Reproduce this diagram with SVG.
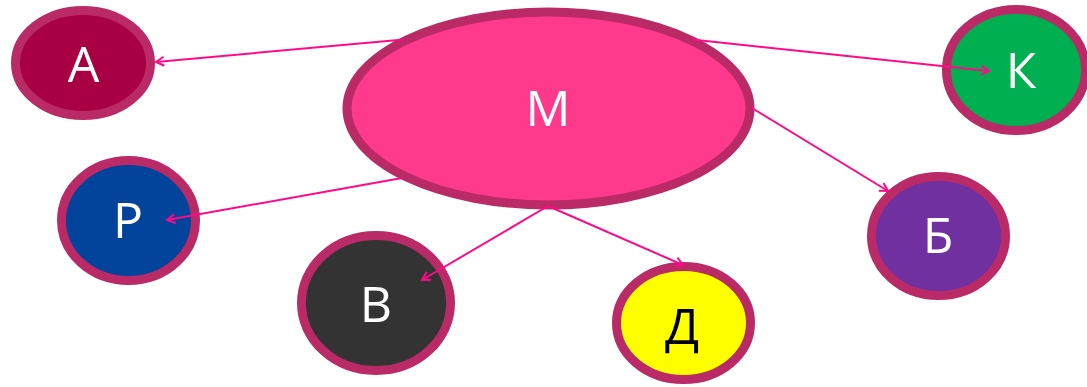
<svg xmlns="http://www.w3.org/2000/svg" width="1087" height="387" viewBox="0 0 1087 387">
<style>
.n{stroke:#B92A66;stroke-width:9}
.t{font-family:"Open Sans","DejaVu Sans",sans-serif;font-size:50px;text-anchor:middle;fill:#FFFFFF}
.c{stroke:#FF0A88;stroke-width:2;fill:none;marker-end:url(#ah)}
</style>
<defs>
<marker id="ah" markerUnits="userSpaceOnUse" markerWidth="14" markerHeight="14" refX="10" refY="6" orient="auto">
<path d="M2,1.5 L10,6 L2,10.5" fill="none" stroke="#FF0A88" stroke-width="2"/>
</marker>
</defs>
<rect width="1087" height="387" fill="#FFFFFF"/>
<g id="node-M"><ellipse class="n" cx="548.5" cy="108.5" rx="201.5" ry="96.5" fill="#FF3A8C"/><text class="t" x="548" y="126">М</text></g>
<g id="node-A"><ellipse class="n" cx="83" cy="63" rx="67.5" ry="52.5" fill="#A80042"/><text class="t" x="83.5" y="82">А</text></g>
<g id="node-K"><ellipse class="n" cx="1016" cy="70" rx="69.5" ry="60.5" fill="#00B050"/><text class="t" x="1021" y="88">К</text></g>
<g id="node-R"><ellipse class="n" cx="128.5" cy="220.5" rx="67" ry="60" fill="#02449C"/><text class="t" x="128" y="238">Р</text></g>
<g id="node-V"><ellipse class="n" cx="376" cy="303" rx="74.5" ry="67.5" fill="#333333"/><text class="t" x="376" y="322">В</text></g>
<g id="node-D"><ellipse class="n" cx="683.5" cy="323" rx="67" ry="56.5" fill="#FFFF00"/><text class="t" x="682" y="344" style="fill:#000000">Д</text></g>
<g id="node-B"><ellipse class="n" cx="938.5" cy="236" rx="67" ry="59.5" fill="#7030A0"/><text class="t" x="938" y="253">Б</text></g>
<g id="connectors">
<line class="c" x1="404" y1="39.5" x2="156" y2="62"/>
<line class="c" x1="692" y1="39.5" x2="989" y2="71"/>
<line class="c" x1="402" y1="178" x2="167" y2="220"/>
<line class="c" x1="752" y1="108" x2="888" y2="191"/>
<line class="c" x1="548" y1="206" x2="422" y2="280"/>
<line class="c" x1="548" y1="206" x2="683" y2="265"/>
</g>
</svg>
